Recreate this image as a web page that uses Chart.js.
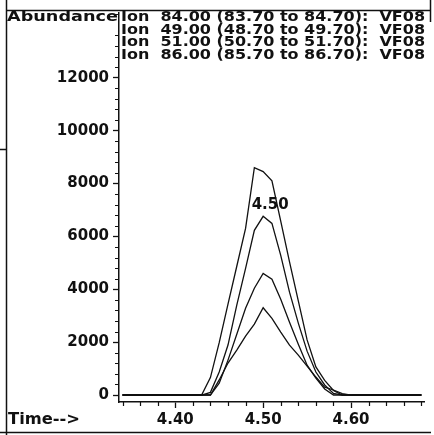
<!DOCTYPE html>
<html>
<head>
<meta charset="utf-8">
<script src="https://cdn.jsdelivr.net/npm/chart.js@4.4.1/dist/chart.umd.min.js"></script>
<style>
  html, body { margin: 0; padding: 0; background: #fff; }
</style>
</head>
<body>
<canvas id="tic" width="434" height="435"></canvas>
<script>
// retention time (min) and abundance per extracted ion
var times = [4.34, 4.43, 4.44, 4.45, 4.46, 4.47, 4.48, 4.49, 4.50, 4.51,
             4.52, 4.53, 4.54, 4.55, 4.56, 4.57, 4.58, 4.59, 4.60, 4.68];
var ion84 = [0, 0, 660, 1980, 3440, 4870, 6300, 8600, 8450, 8100,
             6580, 5040, 3560, 2085, 1064, 555, 170, 0, 0, 0];
var ion49 = [0, 0, 100, 870, 1890, 3400, 4790, 6230, 6760, 6490,
             5280, 3890, 2720, 1660, 870, 380, 60, 0, 0, 0];
var ion51 = [0, 0, 0, 450, 1320, 2300, 3280, 4040, 4600, 4380,
             3620, 2750, 1920, 1130, 640, 230, 0, 0, 0, 0];
var ion86 = [0, 0, 0, 570, 1210, 1700, 2230, 2680, 3300, 2900,
             2380, 1890, 1510, 1090, 680, 300, 190, 50, 0, 0];

var ionLabels = [
  'Ion  84.00 (83.70 to 84.70):  VF08',
  'Ion  49.00 (48.70 to 49.70):  VF08',
  'Ion  51.00 (50.70 to 51.70):  VF08',
  'Ion  86.00 (85.70 to 86.70):  VF08'
];
var yMajorTicks = [0, 2000, 4000, 6000, 8000, 10000, 12000];
var xMajorTicks = [4.40, 4.50, 4.60];
var peakLabel = '4.50';

// minor tick marks (every 400 counts, every 0.02 min)
var yMinorTicks = [];
for (var v = 400; v <= 14400; v += 400) if (v % 2000) yMinorTicks.push(v);
var xMinorTicks = [];
for (var k = 434; k <= 468; k += 2) if (k % 10) xMinorTicks.push(k / 100);

var FONT = '"DejaVu Sans", sans-serif';
var INK = '#111';

// draw text stretched/squeezed to a given width (the printout font is wide)
function fitText(c, s, x, y, w) {
  var m = c.measureText(s).width;
  c.save();
  c.translate(x, y);
  c.scale(w / m, 1);
  c.fillText(s, 0, 0);
  c.restore();
}

var decor = {
  id: 'decor',
  afterDraw: function(chart) {
    var c = chart.ctx, xs = chart.scales.x, ys = chart.scales.y;
    var area = chart.chartArea;
    c.save();
    c.strokeStyle = INK;
    c.fillStyle = INK;
    c.lineWidth = 1.2;

    // minor ticks
    c.beginPath();
    yMinorTicks.forEach(function(v) {
      var y = Math.round(ys.getPixelForValue(v)) + 0.5;
      c.moveTo(area.left - 4, y); c.lineTo(area.left, y);
    });
    xMinorTicks.forEach(function(t) {
      var x = Math.round(xs.getPixelForValue(t)) + 0.5;
      c.moveTo(x, area.bottom); c.lineTo(x, area.bottom + 4);
    });
    c.stroke();

    // outer frame of the printout
    c.lineWidth = 1.5;
    c.beginPath();
    c.moveTo(6.5, 0); c.lineTo(6.5, 435);
    c.moveTo(6, 10.5); c.lineTo(431, 10.5);
    c.moveTo(430.5, 0); c.lineTo(430.5, 22);
    c.moveTo(0, 432.5); c.lineTo(431, 432.5);
    c.moveTo(0, 149.5); c.lineTo(6, 149.5);
    c.stroke();

    // header
    c.textBaseline = 'middle';
    c.textAlign = 'left';
    c.font = 'bold 14px ' + FONT;
    fitText(c, 'Abundance', 7, 17.5, 111);
    ionLabels.forEach(function(s, i) {
      fitText(c, s, 121, 17.5 + i * 12.5, 304);
    });

    // x axis caption
    c.font = 'bold 15px ' + FONT;
    fitText(c, 'Time-->', 8, 420, 72);

    // retention time label on the peak
    c.textAlign = 'center';
    c.font = 'bold 15px ' + FONT;
    c.fillText(peakLabel, xs.getPixelForValue(4.508), ys.getPixelForValue(7200));
    c.restore();
  }
};

var series = [ion84, ion49, ion51, ion86];
new Chart(document.getElementById('tic'), {
  type: 'line',
  data: {
    datasets: series.map(function(vals, i) {
      return {
        label: ionLabels[i],
        data: times.map(function(t, j) { return { x: t, y: vals[j] }; }),
        borderColor: INK,
        borderWidth: 1.3,
        pointRadius: 0,
        tension: 0,
        fill: false
      };
    })
  },
  options: {
    responsive: false,
    animation: false,
    devicePixelRatio: 1,
    layout: { padding: { left: 0, top: 12, right: 10, bottom: 0 } },
    plugins: { legend: { display: false }, tooltip: { enabled: false } },
    scales: {
      x: {
        type: 'linear',
        min: 4.336,
        max: 4.683,
        border: { color: INK, width: 1.5 },
        grid: { drawOnChartArea: false, tickLength: 6, color: INK, tickWidth: 1.3 },
        ticks: {
          color: INK,
          font: { family: FONT, size: 15, weight: 'bold' },
          padding: 3,
          maxRotation: 0,
          autoSkip: false,
          callback: function(v) { return v.toFixed(2); }
        },
        afterBuildTicks: function(s) {
          s.ticks = xMajorTicks.map(function(v) { return { value: v }; });
        },
        afterFit: function(s) { s.height = 33; }
      },
      y: {
        type: 'linear',
        min: -264,
        max: 14450,
        border: { color: INK, width: 1.5 },
        grid: { drawOnChartArea: false, tickLength: 6, color: INK, tickWidth: 1.3 },
        ticks: {
          color: INK,
          font: { family: FONT, size: 15, weight: 'bold' },
          padding: 4,
          autoSkip: false,
          callback: function(v) { return String(v); }
        },
        afterBuildTicks: function(s) {
          s.ticks = yMajorTicks.map(function(v) { return { value: v }; });
        },
        afterFit: function(s) { s.width = 119; }
      }
    }
  },
  plugins: [decor]
});
</script>
</body>
</html>
